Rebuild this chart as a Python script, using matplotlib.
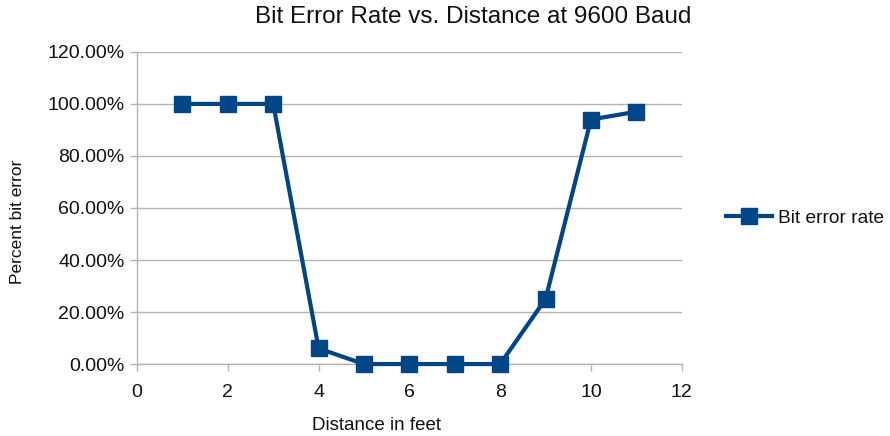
import matplotlib
matplotlib.use("Agg")
import matplotlib.pyplot as plt
from matplotlib.ticker import FuncFormatter

plt.rcParams['font.family'] = ['Liberation Sans', 'DejaVu Sans']

distance_ft = [1, 2, 3, 4, 5, 6, 7, 8, 9, 10, 11]
bit_error_pct = [100, 100, 100, 6, 0, 0, 0, 0, 25, 94, 97]

x_ticks = [0, 2, 4, 6, 8, 10, 12]
y_ticks = [0, 20, 40, 60, 80, 100, 120]

color = '#004586'
gray = '#b3b3b3'
W, H = 890, 436

fig = plt.figure(figsize=(8.9, 4.36), dpi=100)
ax = fig.add_axes([0.154, 0.165, 0.612, 0.716])

ax.plot(distance_ft, bit_error_pct, color=color, linewidth=3,
        marker='s', markersize=11, markerfacecolor=color, markeredgecolor=color,
        label='Bit error rate', clip_on=False, zorder=3)

ax.set_xlim(0, 12)
ax.set_ylim(0, 120)
ax.set_xticks(x_ticks)
ax.set_yticks(y_ticks)
ax.yaxis.set_major_formatter(FuncFormatter(lambda v, p: f"{v:.2f}%"))

ax.grid(axis='y', color=gray, linewidth=1)
ax.set_axisbelow(True)
for s in ['top', 'right']:
    ax.spines[s].set_visible(False)
for s in ['left', 'bottom']:
    ax.spines[s].set_color(gray)
    ax.spines[s].set_linewidth(1)
ax.tick_params(axis='both', colors=gray, length=5, width=1, labelsize=14,
               labelcolor='#111111')
ax.tick_params(axis='x', pad=9)
ax.tick_params(axis='y', pad=4)

# Titles placed in figure pixel coordinates
fig.text(473 / W, 1 - 17 / H, 'Bit Error Rate vs. Distance at 9600 Baud',
         fontsize=17.5, ha='center', va='center', color='#111111')
fig.text(377 / W, 1 - 425 / H, 'Distance in feet',
         fontsize=13.5, ha='center', va='center', color='#111111')
fig.text(18 / W, 1 - 222 / H, 'Percent bit error', rotation=90,
         fontsize=12.5, ha='center', va='center', color='#111111')

leg = fig.legend(loc='center left', bbox_to_anchor=(726 / W, 1 - 218 / H), frameon=False,
                 fontsize=13.8, handlelength=2.4, handletextpad=0.3,
                 borderaxespad=0, borderpad=0)
for t in leg.get_texts():
    t.set_color('#111111')

fig.savefig('out.png', dpi=100)
